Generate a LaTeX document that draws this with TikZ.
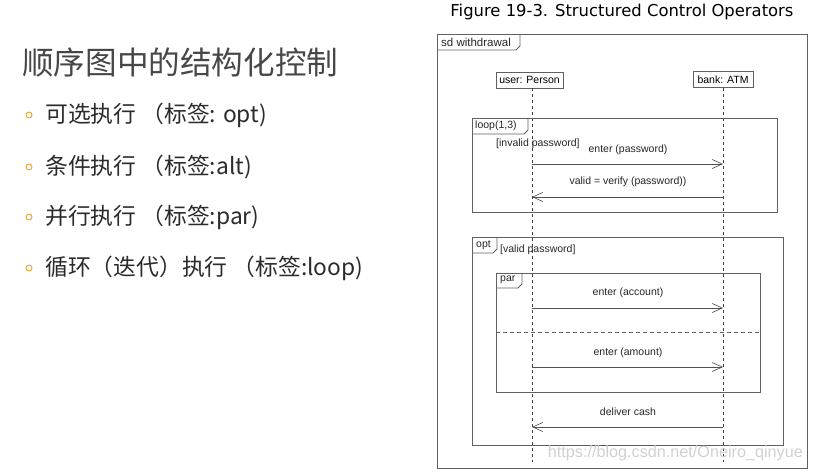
\documentclass[tikz,border=0pt]{standalone}
\usepackage{fontspec}
\setmainfont{Liberation Sans}
\newfontfamily\cjk{Noto Sans CJK SC}
\newfontfamily\figfont{DejaVu Sans}
\usetikzlibrary{arrows.meta}
\definecolor{framegray}{HTML}{606060}
\definecolor{linegray}{HTML}{505050}
\definecolor{txtgray}{HTML}{2B2B2B}
\definecolor{bulletorange}{HTML}{F0A030}
\definecolor{wmgray}{HTML}{D0D0D0}
\begin{document}
\begin{tikzpicture}[x=1pt,y=-1pt,
  frame/.style={draw=framegray, line width=0.75pt},
  lbl/.style={font=\fontsize{10.5}{12}\selectfont, text=black!85, inner sep=0pt},
  obj/.style={draw=framegray, line width=0.75pt, minimum height=16pt, inner sep=0pt, font=\fontsize{10.5}{12}\selectfont},
  msg/.style={draw=linegray, line width=0.65pt, -{Straight Barb[length=10pt,width=9pt,line width=0.65pt]}},
  lifeline/.style={draw=black!75, line width=0.85pt, dash pattern=on 3pt off 3pt},
  sep/.style={draw=framegray, line width=0.75pt, dash pattern=on 4pt off 3pt},
  bullet/.style={circle, draw=bulletorange, line width=0.9pt, minimum size=6pt, inner sep=0pt},
  bl/.style={anchor=west, inner sep=0pt, text=txtgray, font=\cjk\fontsize{22.8}{24}\selectfont}
]
\useasboundingbox (0,0) rectangle (813,472);

% left text
\node[anchor=west, inner sep=0pt, text=black!72, font=\cjk\fontsize{31.6}{34}\selectfont] (title) at (22,62) {顺序图中的结构化控制};
\node[bullet] (b1) at (29,115) {};
\node[bl] (t1) at (45,115) {可选执行 （标签: opt)};
\node[bullet] (b2) at (29,167) {};
\node[bl] (t2) at (45,167) {条件执行 （标签:alt)};
\node[bullet] (b3) at (29,217) {};
\node[bl] (t3) at (45,217) {并行执行 （标签:par)};
\node[bullet] (b4) at (29,268) {};
\node[bl] (t4) at (45,268) {循环（迭代）执行 （标签:loop)};

% figure title
\node[inner sep=0pt, anchor=base, font=\figfont\fontsize{16.4}{18}\selectfont, text=black] (fig) at (622,16.5) {Figure 19-3. Structured Control Operators};

% outer frame
\draw[frame] (437,34) rectangle (807,468);
\draw[frame] (520,34) -- (520,46) -- (516,50) -- (437,50);
\node[lbl, anchor=west, font=\fontsize{11.5}{12}\selectfont] (sd) at (441,42) {sd withdrawal};

% lifelines
\node[obj, minimum width=67pt] (user) at (529.5,80) {user: Person};
\node[obj, minimum width=60pt] (bank) at (723,79.5) {bank: ATM};
\coordinate (uEnd) at (532,462);
\coordinate (bEnd) at (723,462);
\draw[lifeline] (user.south -| uEnd) -- (uEnd);
\draw[lifeline] (bank.south) -- (bEnd);

% loop fragment
\draw[frame] (472,118) rectangle (777,212);
\draw[frame] (528,118) -- (528,130) -- (524,134) -- (472,134);
\node[lbl, anchor=west] (loopt) at (475,126) {loop(1,3)};
\node[lbl, anchor=west] (g1) at (496,144) {[invalid password]};
\node[lbl] (m1) at (628,150) {enter (password)};
\coordinate (u1) at (532,164); \coordinate (a1) at (723,164);
\draw[msg] (u1) -- (a1);
\node[lbl] (m2) at (628,182) {valid = verify (password))};
\coordinate (u2) at (532,197); \coordinate (a2) at (723,197);
\draw[msg] (a2) -- (u2);

% opt fragment
\draw[frame] (472,237) rectangle (783,445);
\draw[frame] (497,237) -- (497,249) -- (493,253) -- (472,253);
\node[lbl, anchor=west] (optt) at (476,245) {opt};
\node[lbl, anchor=west] (g2) at (500,250) {[valid password]};

% par fragment
\draw[frame] (496,273) rectangle (760,392);
\draw[frame] (522,273) -- (522,284) -- (518,288) -- (496,288);
\node[lbl, anchor=west] (part) at (500,280) {par};
\coordinate (sL) at (496,332); \coordinate (sR) at (760,332);
\draw[sep] (sL) -- (sR);
\node[lbl] (m3) at (628,293) {enter (account)};
\coordinate (u3) at (532,308); \coordinate (a3) at (723,308);
\draw[msg] (u3) -- (a3);
\node[lbl] (m4) at (628,353) {enter (amount)};
\coordinate (u4) at (532,367); \coordinate (a4) at (723,367);
\draw[msg] (u4) -- (a4);

\node[lbl] (m5) at (628,412) {deliver cash};
\coordinate (u5) at (532,427); \coordinate (a5) at (723,427);
\draw[msg] (a5) -- (u5);

% watermark
\node[anchor=east, inner sep=0pt, text=wmgray, font=\fontsize{16.2}{17}\selectfont] (wm) at (803,453) {https://blog.csdn.net/Oneiro\_qinyue};
\end{tikzpicture}
\end{document}
